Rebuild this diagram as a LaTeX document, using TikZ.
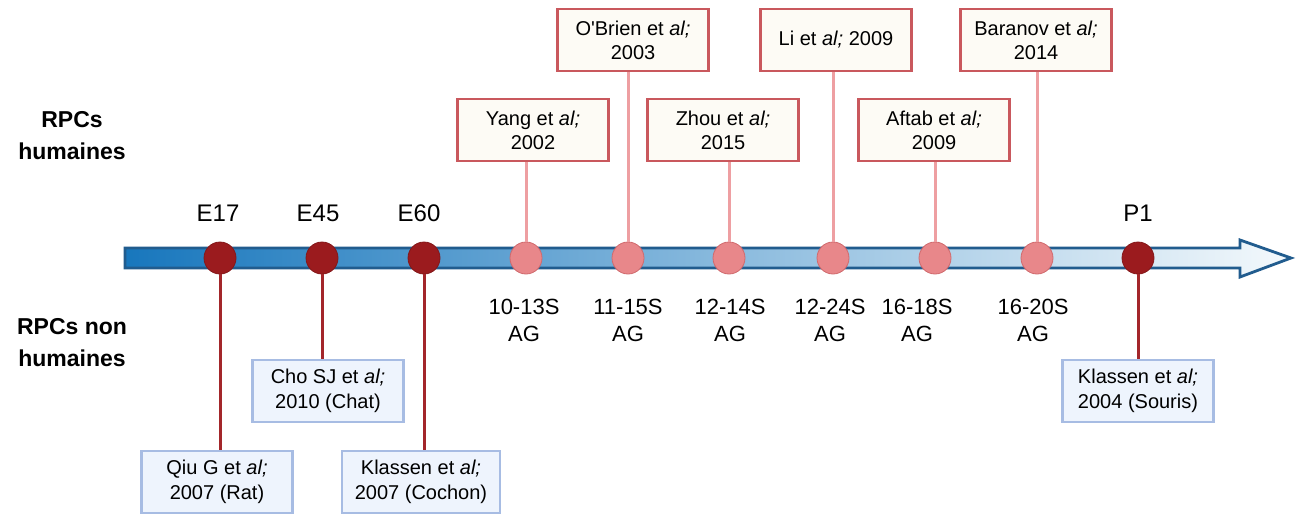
\documentclass[tikz,border=0pt]{standalone}
\usepackage{fontspec}
\setmainfont{Liberation Sans}[Ligatures=TeXOff]
\definecolor{barblue}{HTML}{215C8E}
\definecolor{barleft}{HTML}{1877BD}
\definecolor{barright}{HTML}{F4F9FC}
\definecolor{earlyred}{HTML}{9B1B1E}
\definecolor{earlyline}{HTML}{A3262A}
\definecolor{latepink}{HTML}{E8878A}
\definecolor{latepinkdark}{HTML}{D0696C}
\definecolor{lateline}{HTML}{EE9FA2}
\definecolor{refred}{HTML}{C9585D}
\definecolor{refcream}{HTML}{FDFBF5}
\definecolor{animblue}{HTML}{A7BCE3}
\definecolor{animfill}{HTML}{EEF4FD}

\begin{document}
\begin{tikzpicture}[x=1pt,y=-1pt,
ref/.style={draw=refred, fill=refcream, line width=2.6pt, minimum width=151pt, minimum height=62pt, inner sep=0pt, align=center, font=\fontsize{20}{24}\selectfont},
animal/.style={draw=animblue, fill=animfill, line width=2.6pt, minimum width=151pt, minimum height=62pt, inner sep=0pt, align=center, font=\fontsize{20}{25}\selectfont},
early/.style={circle, fill=earlyred, draw=earlyred!85!black, line width=0.8pt, minimum size=32pt, inner sep=0pt},
late/.style={circle, fill=latepink, draw=latepinkdark, line width=0.8pt, minimum size=32pt, inner sep=0pt},
stage/.style={align=center, font=\fontsize{22}{27}\selectfont},
age/.style={font=\fontsize{24}{28}\selectfont},
side/.style={align=center, font=\bfseries\fontsize{23}{32}\selectfont},
earlylink/.style={draw=earlyline, line width=3pt},
latelink/.style={draw=lateline, line width=3pt}]
\useasboundingbox (0,0) rectangle (1301,514);
\def\by{258}

% axis
\draw[line width=2.8pt, draw=barblue, left color=barleft, right color=barright]
  (125,248) -- (1240,248) -- (1240,240) -- (1291,\by) -- (1240,277) -- (1240,268) -- (125,268) -- cycle;

% side labels
\node[side] (hum) at (72,136) {RPCs\\humaines};
\node[side] (nonhum) at (72,343) {RPCs non\\humaines};

% stages
\node[early] (e17) at (220,\by) {};
\node[early] (e45) at (322,\by) {};
\node[early] (e60) at (424,\by) {};
\node[early] (p1) at (1138,\by) {};
\node[late] (s1) at (526,\by) {};
\node[late] (s2) at (628,\by) {};
\node[late] (s3) at (729,\by) {};
\node[late] (s4) at (833,\by) {};
\node[late] (s5) at (935,\by) {};
\node[late] (s6) at (1037,\by) {};

\node[age] (le17) at (218,213) {E17};
\node[age] (le45) at (318,213) {E45};
\node[age] (le60) at (419,213) {E60};
\node[age] (lp1) at (1138,213) {P1};

\node[stage] (ls1) at (524,320) {10-13S\\AG};
\node[stage] (ls2) at (628,320) {11-15S\\AG};
\node[stage] (ls3) at (730,320) {12-14S\\AG};
\node[stage] (ls4) at (830,320) {12-24S\\AG};
\node[stage] (ls5) at (917,320) {16-18S\\AG};
\node[stage] (ls6) at (1033,320) {16-20S\\AG};

% human references
\node[ref] (yang) at (533,130) {Yang et \textit{al;}\\2002};
\node[ref] (obrien) at (633,40) {O'Brien et \textit{al;}\\2003};
\node[ref] (zhou) at (723,130) {Zhou et \textit{al;}\\2015};
\node[ref] (li) at (836,40) {Li et \textit{al;} 2009};
\node[ref] (aftab) at (934,130) {Aftab et \textit{al;}\\2009};
\node[ref] (baranov) at (1036,40) {Baranov et \textit{al;}\\2014};

\draw[latelink] (s1.north) -- (s1.north |- yang.south);
\draw[latelink] (s2.north) -- (s2.north |- obrien.south);
\draw[latelink] (s3.north) -- (s3.north |- zhou.south);
\draw[latelink] (s4.north) -- (s4.north |- li.south);
\draw[latelink] (s5.north) -- (s5.north |- aftab.south);
\draw[latelink] (s6.north) -- (s6.north |- baranov.south);

% animal references
\node[animal] (qiu) at (217,482) {Qiu G et \textit{al;}\\2007 (Rat)};
\node[animal] (cho) at (328,391) {Cho SJ et \textit{al;}\\2010 (Chat)};
\node[animal, minimum width=158pt] (cochon) at (421,482) {Klassen et \textit{al;}\\2007 (Cochon)};
\node[animal] (souris) at (1138,391) {Klassen et \textit{al;}\\2004 (Souris)};

\draw[earlylink] (e17.south) -- (e17.south |- qiu.north);
\draw[earlylink] (e45.south) -- (e45.south |- cho.north);
\draw[earlylink] (e60.south) -- (e60.south |- cochon.north);
\draw[earlylink] (p1.south) -- (p1.south |- souris.north);
\end{tikzpicture}
\end{document}
